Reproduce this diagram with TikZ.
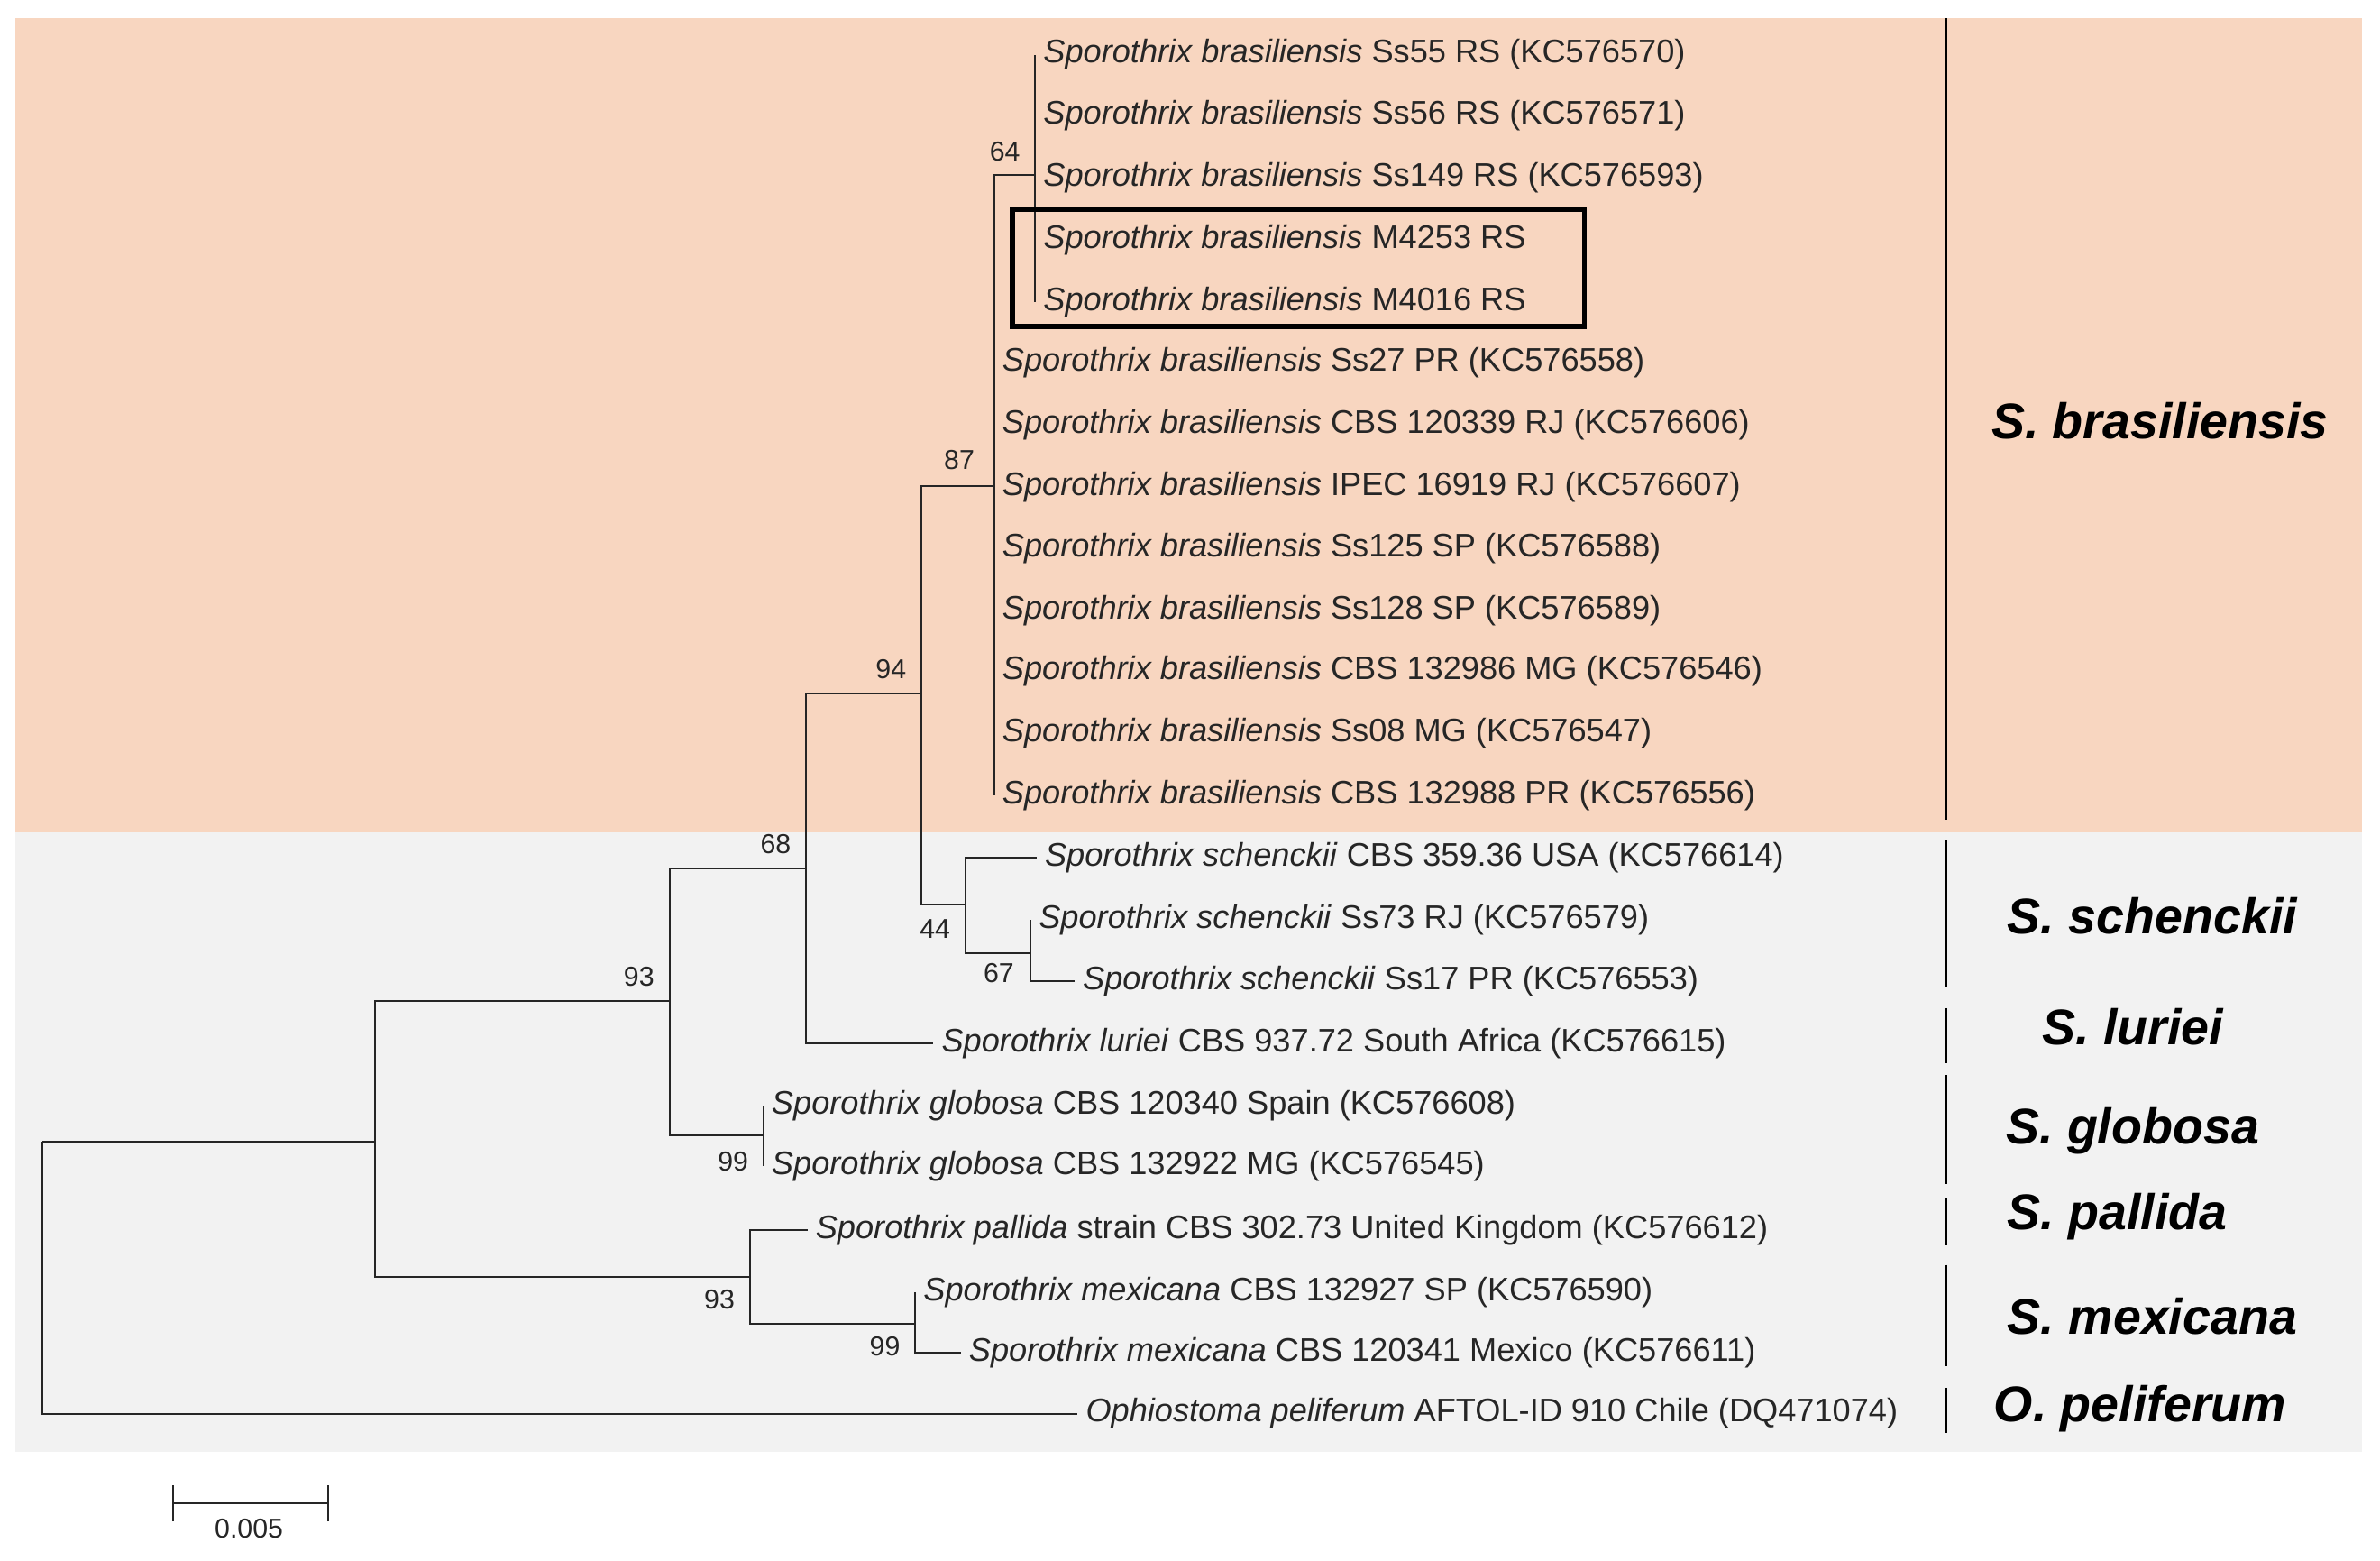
\documentclass[tikz,border=0pt]{standalone}
\usepackage{fontspec}
\setmainfont{Liberation Sans}
\begin{document}
\begin{tikzpicture}[x=0.5pt,y=-0.5pt,
 leaf/.style={anchor=west,inner xsep=2.5pt,inner ysep=0pt,font=\fontsize{10.75}{12}\selectfont,text=black!85},
 bs/.style={font=\fontsize{9}{10}\selectfont,inner sep=0pt,text=black!85},
 grp/.style={font=\fontsize{16.5}{18}\selectfont\bfseries\itshape,inner sep=0pt},
 br/.style={line width=0.6pt,black!85},
 bar/.style={line width=1.1pt}]
\useasboundingbox (0,0) rectangle (1568,1028);
\fill[fill={rgb,255:red,248;green,214;blue,192}] (10,12) rectangle (1556,548);
\fill[fill={rgb,255:red,242;green,242;blue,242}] (10,548) rectangle (1556,956);
% internal nodes
\coordinate (root) at (28,752);
\coordinate (A) at (247,752);
\coordinate (B) at (441,659);
\coordinate (C) at (494,841);
\coordinate (D) at (531,572);
\coordinate (Gl) at (503,748);
\coordinate (E) at (607,457);
\coordinate (F) at (655,320);
\coordinate (N64) at (682,115);
\coordinate (G) at (636,596);
\coordinate (H) at (679,628);
\coordinate (I) at (603,872);
% leaves
\newcommand{\sbr}{\textit{Sporothrix brasiliensis}}
\node[leaf] (l1) at (682,36) {\sbr{} Ss55 RS (KC576570)};
\node[leaf] (l2) at (682,76) {\sbr{} Ss56 RS (KC576571)};
\node[leaf] (l3) at (682,117) {\sbr{} Ss149 RS (KC576593)};
\node[leaf] (l4) at (682,158) {\sbr{} M4253 RS};
\node[leaf] (l5) at (682,199) {\sbr{} M4016 RS};
\node[leaf] (l6) at (655,239) {\sbr{} Ss27 PR (KC576558)};
\node[leaf] (l7) at (655,280) {\sbr{} CBS 120339 RJ (KC576606)};
\node[leaf] (l8) at (655,321) {\sbr{} IPEC 16919 RJ (KC576607)};
\node[leaf] (l9) at (655,361) {\sbr{} Ss125 SP (KC576588)};
\node[leaf] (l10) at (655,402) {\sbr{} Ss128 SP (KC576589)};
\node[leaf] (l11) at (655,442) {\sbr{} CBS 132986 MG (KC576546)};
\node[leaf] (l12) at (655,483) {\sbr{} Ss08 MG (KC576547)};
\node[leaf] (l13) at (655,524) {\sbr{} CBS 132988 PR (KC576556)};
\node[leaf] (s1) at (683,565) {\textit{Sporothrix schenckii} CBS 359.36 USA (KC576614)};
\node[leaf] (s2) at (679,606) {\textit{Sporothrix schenckii} Ss73 RJ (KC576579)};
\node[leaf] (s3) at (708,646) {\textit{Sporothrix schenckii} Ss17 PR (KC576553)};
\node[leaf] (lu) at (615,687) {\textit{Sporothrix luriei} CBS 937.72 South Africa (KC576615)};
\node[leaf] (g1) at (503,728) {\textit{Sporothrix globosa} CBS 120340 Spain (KC576608)};
\node[leaf] (g2) at (503,768) {\textit{Sporothrix globosa} CBS 132922 MG (KC576545)};
\node[leaf] (pa) at (532,810) {\textit{Sporothrix pallida} strain CBS 302.73 United Kingdom (KC576612)};
\node[leaf] (m1) at (603,851) {\textit{Sporothrix mexicana} CBS 132927 SP (KC576590)};
\node[leaf] (m2) at (633,891) {\textit{Sporothrix mexicana} CBS 120341 Mexico (KC576611)};
\node[leaf] (op) at (710,931) {\textit{Ophiostoma peliferum} AFTOL-ID 910 Chile (DQ471074)};
% branches
\draw[br] (root) |- (A); \draw[br] (root) |- (op.west);
\draw[br] (A) |- (B); \draw[br] (A) |- (C);
\draw[br] (B) |- (D); \draw[br] (B) |- (Gl);
\draw[br] (Gl) |- (g1.west); \draw[br] (Gl) |- (g2.west);
\draw[br] (D) |- (E); \draw[br] (D) |- (lu.west);
\draw[br] (E) |- (F); \draw[br] (E) |- (G);
\draw[br] (F) |- (N64);
\foreach \l in {l6,l7,l8,l9,l10,l11,l12,l13} \draw[br] (F) |- (\l.west);
\foreach \l in {l1,l2,l3,l4,l5} \draw[br] (N64) |- (\l.west);
\draw[br] (G) |- (s1.west); \draw[br] (G) |- (H);
\draw[br] (H) |- (s2.west); \draw[br] (H) |- (s3.west);
\draw[br] (C) |- (pa.west); \draw[br] (C) |- (I);
\draw[br] (I) |- (m1.west); \draw[br] (I) |- (m2.west);
% bootstrap
\node[bs] (b64) at (662,100) {64};
\node[bs] (b87) at (632,303) {87};
\node[bs] (b94) at (587,441) {94};
\node[bs] (b68) at (511,556) {68};
\node[bs] (b93a) at (421,643) {93};
\node[bs] (b44) at (616,612) {44};
\node[bs] (b67) at (658,641) {67};
\node[bs] (b99a) at (483,765) {99};
\node[bs] (b93b) at (474,856) {93};
\node[bs] (b99b) at (583,887) {99};
% highlight box
\draw[line width=1.6pt] (667,138) rectangle (1044,215);
% group bars and labels
\draw[bar] (1282,12) -- (1282,540);
\draw[bar] (1282,553) -- (1282,650);
\draw[bar] (1282,664) -- (1282,700);
\draw[bar] (1282,708) -- (1282,780);
\draw[bar] (1282,789) -- (1282,820);
\draw[bar] (1282,833) -- (1282,900);
\draw[bar] (1282,914) -- (1282,944);
\node[grp] (gb) at (1423,277) {S. brasiliensis};
\node[grp] (gs) at (1418,603) {S. schenckii};
\node[grp] (gl) at (1405,676) {S. luriei};
\node[grp] (gg) at (1405,745) {S. globosa};
\node[grp] (gp) at (1395,801) {S. pallida};
\node[grp] (gm) at (1418,867) {S. mexicana};
\node[grp] (go) at (1410,928) {O. peliferum};
% scale bar
\coordinate (sb1) at (114,990); \coordinate (sb2) at (216,990);
\draw[br] (sb1) -- (sb2);
\draw[br] ([yshift=-6]sb1) -- ([yshift=6]sb1);
\draw[br] ([yshift=-6]sb2) -- ([yshift=6]sb2);
\node[bs] (sbl) at (164,1007) {0.005};
\end{tikzpicture}
\end{document}
